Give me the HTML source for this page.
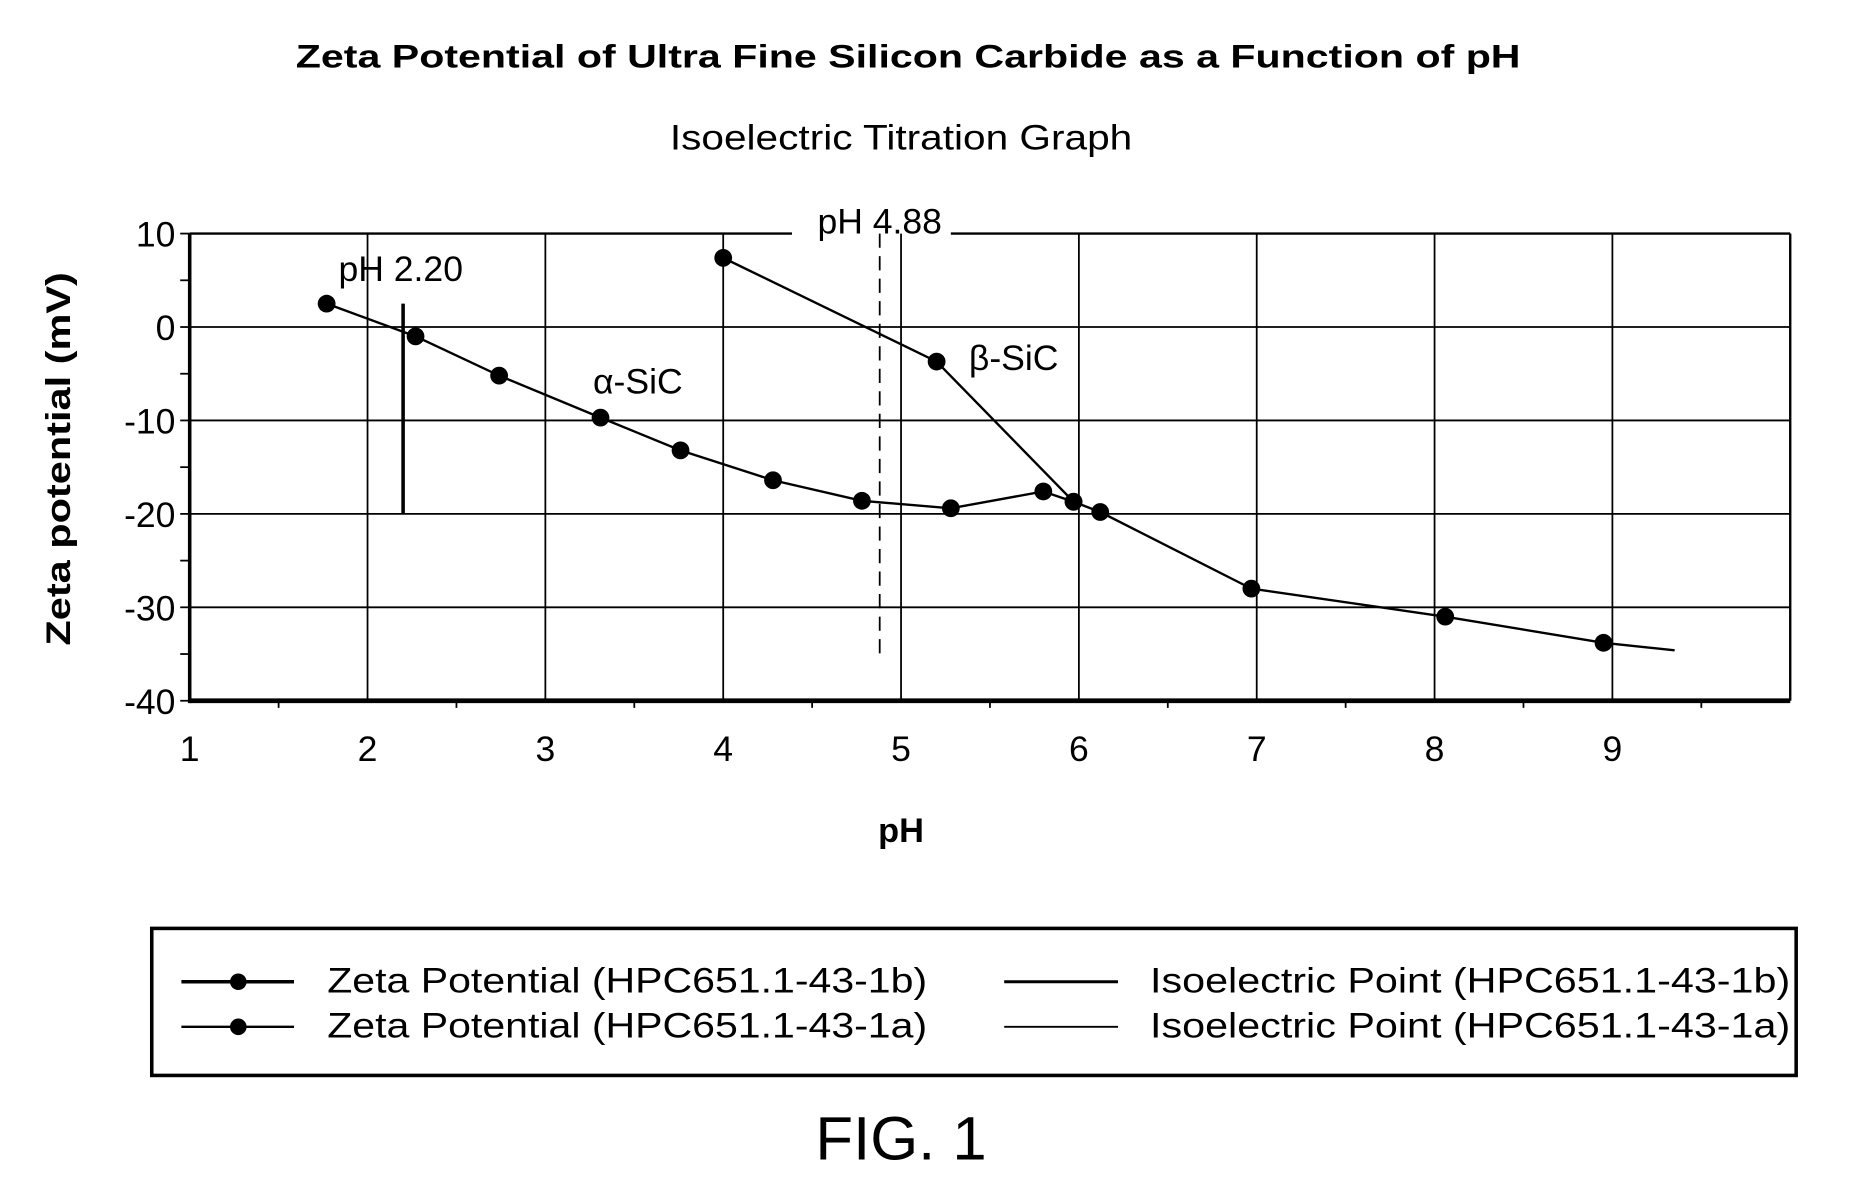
<!DOCTYPE html>
<html><head><meta charset="utf-8"><style>
html,body{margin:0;padding:0;background:#fff;}
svg{display:block;}
text{font-family:"Liberation Sans",sans-serif;fill:#000;}
</style></head><body>
<svg id="chart" width="1859" height="1194" viewBox="0 0 1568 1007" preserveAspectRatio="none" xmlns="http://www.w3.org/2000/svg">
<text x="766" y="57" font-size="27" font-weight="bold" text-anchor="middle" textLength="1033" lengthAdjust="spacingAndGlyphs">Zeta Potential of Ultra Fine Silicon Carbide as a Function of pH</text>
<text x="760" y="126" font-size="30" text-anchor="middle" textLength="390" lengthAdjust="spacingAndGlyphs">Isoelectric Titration Graph</text>
<text transform="translate(59,387) rotate(-90)" font-size="29" font-weight="bold" text-anchor="middle" textLength="315" lengthAdjust="spacingAndGlyphs">Zeta potential (mV)</text>
<text x="760" y="710" font-size="29" font-weight="bold" text-anchor="middle">pH</text>
<g id="grid"></g>
<g id="marks"></g>
<g>
<rect x="128" y="783" width="1387" height="124" fill="none" stroke="#000" stroke-width="3"/>
<line x1="153" y1="828" x2="248" y2="828" stroke="#000" stroke-width="3"/>
<circle cx="201" cy="828" r="7"/>
<text x="276" y="837" font-size="30" textLength="506" lengthAdjust="spacingAndGlyphs">Zeta Potential (HPC651.1-43-1b)</text>
<line x1="153" y1="866" x2="248" y2="866" stroke="#000" stroke-width="2"/>
<circle cx="201" cy="866" r="7"/>
<text x="276" y="875" font-size="30" textLength="506" lengthAdjust="spacingAndGlyphs">Zeta Potential (HPC651.1-43-1a)</text>
<line x1="847" y1="828" x2="943" y2="828" stroke="#000" stroke-width="2.5"/>
<text x="970" y="837" font-size="30" textLength="540" lengthAdjust="spacingAndGlyphs">Isoelectric Point (HPC651.1-43-1b)</text>
<line x1="847" y1="866" x2="943" y2="866" stroke="#000" stroke-width="1.5"/>
<text x="970" y="875" font-size="30" textLength="540" lengthAdjust="spacingAndGlyphs">Isoelectric Point (HPC651.1-43-1a)</text>
</g>
<text x="760" y="978" font-size="52" text-anchor="middle">FIG. 1</text>
</svg>
<script>
const xTicks = [1,2,3,4,5,6,7,8,9];
const yTicks = [10,0,-10,-20,-30,-40];
const alphaPH = [1.77,2.27,2.74,3.31,3.76,4.28,4.78,5.28,5.80,5.97];
const alphaZeta = [2.5,-1.0,-5.2,-9.7,-13.2,-16.4,-18.6,-19.4,-17.6,-18.7];
const betaPH = [4.00,5.20,5.97,6.12,6.97,8.06,8.95,9.35];
const betaZeta = [7.4,-3.7,-18.7,-19.8,-28.0,-31.0,-33.8,-34.6];
const betaMarkers = [true,true,true,true,true,true,true,false];
const iep = [2.20, 4.88];

const X0=160, X1=1510, Y0=197, Y1=591;
const xS = v => X0 + (v-1)/(10-1)*(X1-X0);
const yS = v => Y0 + (10-v)/(50)*(Y1-Y0);
const NS="http://www.w3.org/2000/svg";
const grid=document.getElementById('grid'), marks=document.getElementById('marks');
function mk(tag, attrs, parent){const e=document.createElementNS(NS,tag);for(const k in attrs)e.setAttribute(k,attrs[k]);parent.appendChild(e);return e;}

xTicks.forEach(v=>{
  if(v>1){const l=mk('line',{x1:xS(v),y1:Y0,x2:xS(v),y2:Y1,stroke:'#000','stroke-width':1.5},grid);
  
  }
  const t=mk('text',{x:xS(v),y:642,'font-size':30,'text-anchor':'middle'},grid);
  t.textContent=v;
  
  
});
for(let v=1.5; v<10; v+=1){mk('line',{x1:xS(v),y1:Y1,x2:xS(v),y2:Y1+6,stroke:'#000','stroke-width':1.5},grid);}
yTicks.forEach(v=>{
  if(v<10&&v>-40){const l=mk('line',{x1:X0,y1:yS(v),x2:X1,y2:yS(v),stroke:'#000','stroke-width':1.5},grid);
  
  }
  mk('line',{x1:X0-8,y1:yS(v),x2:X0,y2:yS(v),stroke:'#000','stroke-width':1.5},grid);
  const t=mk('text',{x:148,y:yS(v)+11,'font-size':30,'text-anchor':'end'},grid);
  t.textContent=v;
  
  
});
for(let v=5; v>-40; v-=10){mk('line',{x1:X0-8,y1:yS(v),x2:X0,y2:yS(v),stroke:'#000','stroke-width':1.5},grid);}
// frame
mk('line',{x1:X0,y1:Y0,x2:668,y2:Y0,stroke:'#000','stroke-width':2},grid);
mk('line',{x1:802,y1:Y0,x2:X1,y2:Y0,stroke:'#000','stroke-width':2},grid);
mk('line',{x1:X1,y1:Y0,x2:X1,y2:Y1,stroke:'#000','stroke-width':2},grid);
mk('line',{x1:X0,y1:Y0,x2:X0,y2:Y1+2,stroke:'#000','stroke-width':3},grid);
mk('line',{x1:X0,y1:Y1,x2:X1,y2:Y1,stroke:'#000','stroke-width':4},grid);

// isoelectric lines
const v1=mk('line',{x1:xS(iep[0]),y1:yS(2.5),x2:xS(iep[0]),y2:yS(-20),stroke:'#000','stroke-width':3},marks);


const v2=mk('line',{x1:xS(iep[1]),y1:Y0,x2:xS(iep[1]),y2:yS(-35.5),stroke:'#000','stroke-width':1.5,'stroke-dasharray':'12,7'},marks);


const l1=mk('text',{x:xS(iep[0])-2,y:237,'font-size':30,'text-anchor':'middle'},marks);
l1.textContent='pH '+iep[0].toFixed(2);


const l2=mk('text',{x:xS(iep[1]),y:197,'font-size':30,'text-anchor':'middle'},marks);
l2.textContent='pH '+iep[1].toFixed(2);



function series(xs,ys,name,markers){
  const p=mk('polyline',{points:xs.map((x,i)=>xS(x)+','+yS(ys[i])).join(' '),fill:'none',stroke:'#000','stroke-width':2},marks);
  
  
  xs.forEach((x,i)=>{ if(markers && !markers[i]) return;
    const c=mk('circle',{cx:xS(x),cy:yS(ys[i]),r:7.5},marks);
    
    
  });
}
series(alphaPH,alphaZeta,'alpha-sic');
series(betaPH,betaZeta,'beta-sic',betaMarkers);
const a=mk('text',{x:538,y:332,'font-size':30,'text-anchor':'middle'},marks);
a.textContent='α-SiC';


const b=mk('text',{x:855,y:312,'font-size':30,'text-anchor':'middle'},marks);
b.textContent='β-SiC';


</script>
</body></html>
